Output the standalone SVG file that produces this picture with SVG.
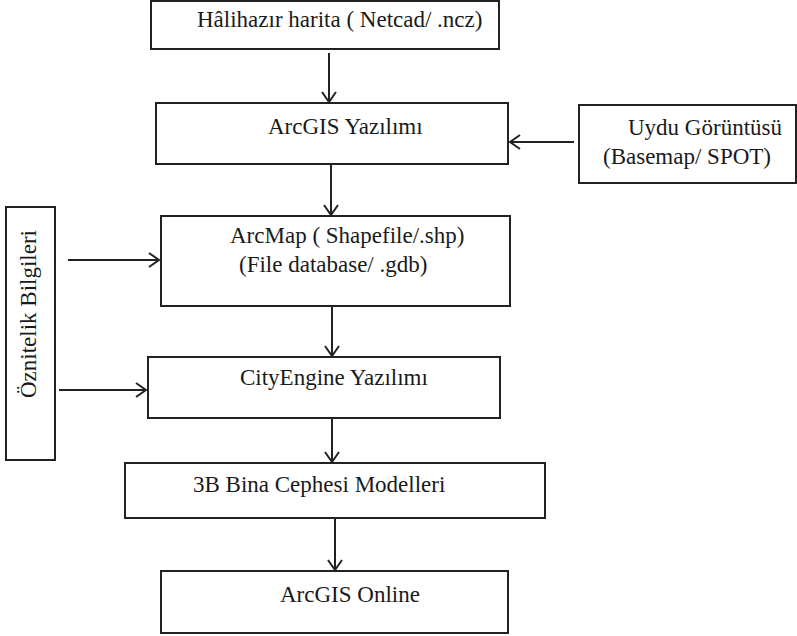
<svg xmlns="http://www.w3.org/2000/svg" width="797" height="636" viewBox="0 0 797 636">
<style>
.box{fill:#fff;stroke:#222;stroke-width:2}
.t{font-family:'Liberation Serif','DejaVu Serif',serif;font-size:23px;fill:#1a1a1a}
.c{fill:none;stroke:#222;stroke-width:2}
</style>
<defs>
<marker id="ah" markerUnits="userSpaceOnUse" markerWidth="14" markerHeight="16" refX="12" refY="8" orient="auto" viewBox="0 0 14 16">
<path d="M2,1 L12,8 L2,15" fill="none" stroke="#222" stroke-width="2"/>
</marker>
</defs>
<rect width="797" height="636" fill="#fff"/>
<g id="connectors">
<line class="c" x1="329" y1="53" x2="329" y2="102" marker-end="url(#ah)"/>
<line class="c" x1="574" y1="142" x2="510" y2="142" marker-end="url(#ah)"/>
<line class="c" x1="331" y1="165" x2="331" y2="215" marker-end="url(#ah)"/>
<line class="c" x1="68" y1="260" x2="159" y2="260" marker-end="url(#ah)"/>
<line class="c" x1="332" y1="307" x2="332" y2="356" marker-end="url(#ah)"/>
<line class="c" x1="59" y1="390" x2="146" y2="390" marker-end="url(#ah)"/>
<line class="c" x1="332" y1="418" x2="332" y2="462" marker-end="url(#ah)"/>
<line class="c" x1="335" y1="519" x2="335" y2="570" marker-end="url(#ah)"/>
</g>
<g id="n1"><rect class="box" x="151" y="1" width="348" height="48"/><text class="t" font-family="Liberation Serif" x="197" y="27">Hâlihazır harita ( Netcad/  .ncz)</text></g>
<g id="n2"><rect class="box" x="156" y="103" width="352" height="61"/><text class="t" font-family="Liberation Serif" x="268" y="134">ArcGIS Yazılımı</text></g>
<g id="n3"><rect class="box" x="579" y="105" width="217" height="78"/><text class="t" font-family="Liberation Serif" x="628" y="135">Uydu Görüntüsü</text><text class="t" font-family="Liberation Serif" x="603" y="164">(Basemap/ SPOT)</text></g>
<g id="n4"><rect class="box" x="161" y="216" width="349" height="90"/><text class="t" font-family="Liberation Serif" x="230" y="243">ArcMap ( Shapefile/.shp)</text><text class="t" font-family="Liberation Serif" x="239" y="272">(File database/ .gdb)</text></g>
<g id="n5"><rect class="box" x="6" y="207" width="49" height="253"/><text class="t" font-family="Liberation Serif" transform="translate(36,398) rotate(-90)">Öznitelik Bilgileri</text></g>
<g id="n6"><rect class="box" x="148" y="357" width="352" height="61"/><text class="t" font-family="Liberation Serif" x="240" y="385">CityEngine Yazılımı</text></g>
<g id="n7"><rect class="box" x="125" y="463" width="420" height="55"/><text class="t" font-family="Liberation Serif" x="193" y="492">3B Bina Cephesi Modelleri</text></g>
<g id="n8"><rect class="box" x="161" y="571" width="347" height="62"/><text class="t" font-family="Liberation Serif" x="280" y="602">ArcGIS Online</text></g>
</svg>
